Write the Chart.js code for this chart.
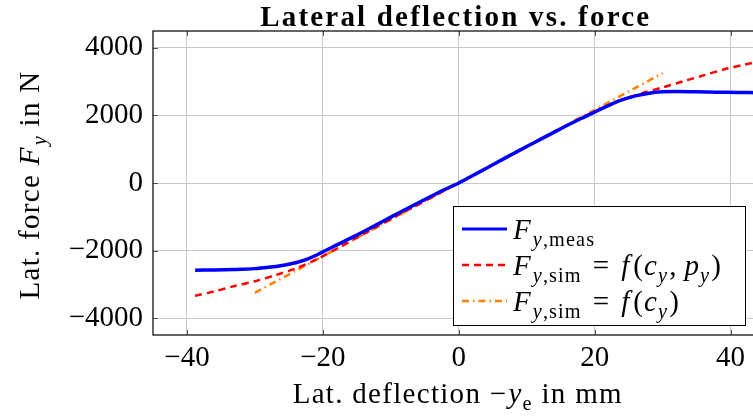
<!DOCTYPE html>
<html>
<head>
<meta charset="utf-8">
<script src="https://cdn.jsdelivr.net/npm/chart.js@4.4.1/dist/chart.umd.min.js"></script>
<style>
  html, body { margin: 0; padding: 0; overflow: hidden; background: #fff; }
  #wrap { width: 775px; height: 416px; }
</style>
</head>
<body>
<div id="wrap"><canvas id="fyChart" width="775" height="416"></canvas></div>
<script>
// measured lateral force over deflection
const measX = [-38.8, -36, -33, -30, -28, -26, -24, -22, -20, -18, -16, -14, -12, -10, -8, -6, -4, -2, 0,
  2, 4, 6, 8, 10, 12, 14, 16, 18, 20, 22, 24, 26, 28, 30, 32, 35, 38, 41, 44];
const measY = [-2580, -2575, -2560, -2535, -2495, -2440, -2360, -2230, -2040, -1840, -1640, -1435, -1225, -1010, -800, -590, -385, -185, 0,
  215, 430, 650, 865, 1080, 1290, 1500, 1710, 1910, 2100, 2290, 2460, 2580, 2660, 2700, 2710, 2700, 2690, 2680, 2675];

// simulation with c_y and p_y
const simX = [-38.8, -36, -33, -30, -27, -24, -21, -18, -15, -12, -9, -6, -3, 0, 3, 6, 9, 12, 15, 18, 21, 24, 27, 30, 33, 36, 39, 42, 45];
const simY = [-3340, -3210, -3050, -2910, -2730, -2530, -2270, -1950, -1620, -1290, -960, -640, -320, 0, 320, 640, 960, 1290, 1610, 1920, 2210, 2460, 2660, 2830, 3010, 3185, 3360, 3500, 3630];

// linear simulation, only c_y
const linX = [-30, 0, 30];
const linY = [-3250, 0, 3250];

const xTicks = [-40, -20, 0, 20, 40];
const yTicks = [-4000, -2000, 0, 2000, 4000];

const FONT = "'Liberation Serif', 'DejaVu Serif', serif";
const FS = 29;

function pts(xs, ys) {
  return xs.map((x, i) => ({ x: x, y: ys[i] }));
}

function fmt(v) {
  return v < 0 ? '\u2212' + Math.abs(v) : String(v);
}

// text with italic letters and subscripts, drawn piece by piece
function partFont(p, size) {
  const s = p.sub ? size * 0.7 : size;
  return (p.it ? 'italic ' : '') + (p.b ? 'bold ' : '') + s + 'px ' + FONT;
}
function partWidth(ctx, p, size, ls) {
  ctx.font = partFont(p, size);
  ctx.letterSpacing = '0px';
  return ctx.measureText(p.t).width + p.t.length * ls + (p.gap || 0);
}
function drawRich(ctx, parts, x, y, size, align, ls) {
  ls = ls || 0;
  let cx = x;
  if (align === 'center') {
    let w = 0;
    parts.forEach(p => { w += partWidth(ctx, p, size, ls); });
    cx = x - w / 2;
  }
  ctx.textBaseline = 'alphabetic';
  ctx.textAlign = 'left';
  parts.forEach(p => {
    const w = partWidth(ctx, p, size, ls);
    ctx.font = partFont(p, size);
    ctx.letterSpacing = ls + 'px';
    ctx.fillText(p.t, cx + (p.gap || 0), y + (p.sub ? size * 0.25 : 0));
    cx += w;
  });
  ctx.letterSpacing = '0px';
}

const legendRows = [
  { color: '#0000ff', dash: [], width: 3,
    parts: [{ t: 'F', it: 1 }, { t: 'y', it: 1, sub: 1, gap: 1 }, { t: ',meas', sub: 1 }] },
  { color: '#ff0000', dash: [7, 5], width: 2.5,
    parts: [{ t: 'F', it: 1 }, { t: 'y', it: 1, sub: 1, gap: 1 }, { t: ',sim', sub: 1 }, { t: '=', gap: 11 }, { t: 'f', it: 1, gap: 11 }, { t: '(', gap: 3 },
      { t: 'c', it: 1 }, { t: 'y', it: 1, sub: 1 }, { t: ',', gap: 1 }, { t: 'p', it: 1, gap: 7 }, { t: 'y', it: 1, sub: 1 }, { t: ')', gap: 1 }] },
  { color: '#ff8000', dash: [7, 4, 1.5, 4], width: 2.5,
    parts: [{ t: 'F', it: 1 }, { t: 'y', it: 1, sub: 1, gap: 1 }, { t: ',sim', sub: 1 }, { t: '=', gap: 11 }, { t: 'f', it: 1, gap: 11 }, { t: '(', gap: 3 },
      { t: 'c', it: 1 }, { t: 'y', it: 1, sub: 1 }, { t: ')', gap: 1 }] }
];

const decorations = {
  id: 'decorations',
  afterDraw(chart) {
    const ctx = chart.ctx;
    const a = chart.chartArea;
    const xs = chart.scales.x, ys = chart.scales.y;
    ctx.save();

    // inward tick marks on all sides
    ctx.strokeStyle = '#555';
    ctx.lineWidth = 1;
    ctx.beginPath();
    xTicks.forEach(v => {
      const px = Math.round(xs.getPixelForValue(v)) + 0.5;
      ctx.moveTo(px, a.bottom); ctx.lineTo(px, a.bottom - 5);
      ctx.moveTo(px, a.top); ctx.lineTo(px, a.top + 5);
    });
    yTicks.forEach(v => {
      const py = Math.round(ys.getPixelForValue(v)) + 0.5;
      ctx.moveTo(a.left, py); ctx.lineTo(a.left + 5, py);
      ctx.moveTo(a.right, py); ctx.lineTo(a.right - 5, py);
    });
    ctx.stroke();

    // frame
    ctx.strokeStyle = '#000';
    ctx.lineWidth = 1.2;
    ctx.strokeRect(a.left, a.top, a.right - a.left, a.bottom - a.top);

    ctx.fillStyle = '#000';
    // title
    const cx = (a.left + a.right) / 2;
    drawRich(ctx, [{ t: 'Lateral deflection vs. force', b: 1 }], cx - 3, 26, 29, 'center', 2.2);

    // x axis title
    drawRich(ctx, [{ t: 'Lat. deflection \u2212' }, { t: 'y', it: 1, gap: 1 }, { t: 'e', sub: 1 }, { t: ' in mm' }],
      cx - 1, 403, FS, 'center', 1.3);

    // y axis title
    ctx.save();
    ctx.translate(39, (a.top + a.bottom) / 2 + 2);
    ctx.rotate(-Math.PI / 2);
    drawRich(ctx, [{ t: 'Lat. force ' }, { t: 'F', it: 1 }, { t: 'y', it: 1, sub: 1, gap: 1 }, { t: ' in N' }], 0, 0, FS, 'center', 1.3);
    ctx.restore();

    // legend box
    const bx = 453, by = 206, bw = 292, bh = 119;
    ctx.fillStyle = '#fff';
    ctx.fillRect(bx, by, bw, bh);
    ctx.strokeStyle = '#000';
    ctx.lineWidth = 1;
    ctx.strokeRect(bx + 0.5, by + 0.5, bw, bh);
    legendRows.forEach((r, i) => {
      const ry = by + 23 + i * 36;
      ctx.strokeStyle = r.color;
      ctx.lineWidth = r.width;
      ctx.setLineDash(r.dash);
      ctx.beginPath();
      ctx.moveTo(bx + 9, ry); ctx.lineTo(bx + 54, ry);
      ctx.stroke();
      ctx.setLineDash([]);
      ctx.fillStyle = '#000';
      drawRich(ctx, r.parts, bx + 60, ry + 10, FS, 'left', 1.1);
    });
    ctx.restore();
  }
};

new Chart(document.getElementById('fyChart'), {
  type: 'scatter',
  data: {
    datasets: [
      { label: 'F_y,meas', data: pts(measX, measY), showLine: true, borderColor: '#0000ff',
        borderWidth: 3.5, pointRadius: 0, tension: 0.3 },
      { label: 'F_y,sim = f(c_y, p_y)', data: pts(simX, simY), showLine: true, borderColor: '#ff0000',
        borderWidth: 2.5, borderDash: [7, 5], pointRadius: 0, tension: 0.3 },
      { label: 'F_y,sim = f(c_y)', data: pts(linX, linY), showLine: true, borderColor: '#ff8000',
        borderWidth: 2.5, borderDash: [7, 4, 1.5, 4], pointRadius: 0 }
    ]
  },
  options: {
    responsive: false,
    animation: false,
    layout: { padding: { left: 0, top: 31, right: 10.5, bottom: 0 } },
    plugins: { legend: { display: false }, title: { display: false }, tooltip: { enabled: false } },
    scales: {
      x: {
        min: -45, max: 45,
        afterFit: s => { s.height = 81; },
        afterBuildTicks: s => { s.ticks = xTicks.map(v => ({ value: v })); },
        grid: { color: '#c8c8c8', drawTicks: false },
        border: { display: false },
        ticks: { color: '#000', padding: 6, font: { family: FONT, size: FS }, callback: fmt }
      },
      y: {
        min: -4500, max: 4500,
        afterFit: s => { s.width = 153; },
        afterBuildTicks: s => { s.ticks = yTicks.map(v => ({ value: v })); },
        grid: { color: '#c8c8c8', drawTicks: false },
        border: { display: false },
        ticks: { color: '#000', padding: 10, font: { family: FONT, size: FS }, callback: fmt }
      }
    }
  },
  plugins: [decorations]
});
</script>
</body>
</html>
